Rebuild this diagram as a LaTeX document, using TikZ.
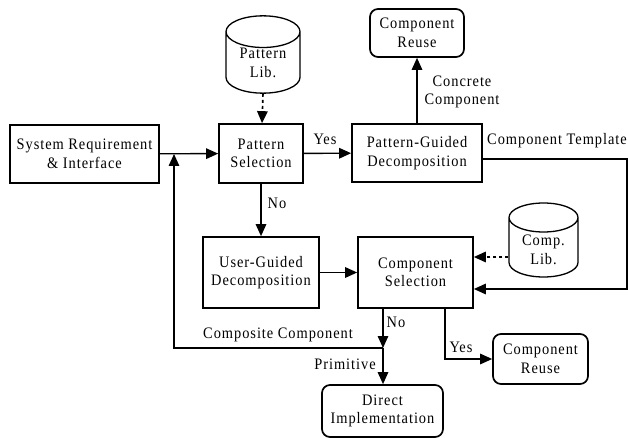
\documentclass[tikz,border=0pt]{standalone}
\usepackage{fontspec}
\setmainfont{Liberation Serif}[LetterSpace=6,FakeStretch=0.9]
\usetikzlibrary{arrows.meta,shapes.geometric}

\begin{document}
\begin{tikzpicture}[x=1pt,y=-1pt,
    line width=1.4pt,
    >={Triangle[length=12pt,width=10.5pt]},
    font=\fontsize{16}{18.5}\selectfont,
    box/.style={draw,line width=1.7pt,align=center,inner sep=0pt},
    rbox/.style={box,rounded corners=8pt},
    db/.style={draw,line width=1.3pt,cylinder,shape border rotate=90,aspect=0.68,align=center,inner sep=0pt,anchor=shape center},
    lbl/.style={inner sep=0pt,align=center},
    dots/.style={dash pattern=on 3pt off 3pt,line width=1.6pt}]

  \useasboundingbox (0,0) rectangle (628,438);

  % blocks
  \node[box, minimum width=149pt, minimum height=58pt] (sysreq) at (84.5,154) {System Requirement\\\& Interface};
  \node[box, minimum width=84pt, minimum height=59pt] (patsel) at (261,153.5) {Pattern\\Selection};
  \node[box, minimum width=130pt, minimum height=58pt] (pgd) at (417,153) {Pattern-Guided\\Decomposition};
  \node[box, minimum width=116pt, minimum height=71pt] (ugd) at (261,272.5) {User-Guided\\Decomposition};
  \node[box, minimum width=115pt, minimum height=71pt] (compsel) at (415.5,272.5) {Component\\Selection};

  \node[rbox, minimum width=94pt, minimum height=48pt] (reuse1) at (417,33) {Component\\Reuse};
  \node[rbox, minimum width=95pt, minimum height=50pt] (reuse2) at (540.5,359) {Component\\Reuse};
  \node[rbox, minimum width=121pt, minimum height=52pt] (direct) at (382.5,411) {Direct\\Implementation};

  % libraries (drum sized by a phantom, text set on its own)
  \node[db, minimum width=74pt, minimum height=75pt] (patlib) at (263,54.5) {\phantom{Pattern}\\\phantom{Lib.}};
  \node[lbl] (patlibtxt) at (263,63) {Pattern\\Lib.};
  \node[db, minimum width=69pt, minimum height=74pt] (complib) at (543.5,240) {\phantom{Comp.}\\\phantom{Lib.}};
  \node[lbl] (complibtxt) at (543.5,250) {Comp.\\Lib.};

  % bends
  \coordinate (tr) at (627,159);
  \coordinate (br) at (627,289);
  \coordinate (jn) at (383,348);
  \coordinate (jl) at (174,348);
  \coordinate (jt) at (174,154);
  \coordinate (yc) at (445,359);

  % labels
  \node[lbl] (yes1) at (325,139) {Yes};
  \node[lbl] (no1) at (277,203) {No};
  \node[lbl] (concr) at (462,92) {Concrete\\Component};
  \node[lbl] (templ) at (557,141) {Component Template};
  \node[lbl] (no2) at (396,322) {No};
  \node[lbl] (compo) at (278,335) {Composite Component};
  \node[lbl] (prim) at (345,364) {Primitive};
  \node[lbl] (yes2) at (461,347) {Yes};

  % connectors
  \draw[->] (sysreq) -- (patsel);
  \draw[->,dots] (patlib.south) -- (patsel);
  \draw[->] (patsel) -- (pgd);
  \draw[->] (pgd) -- (reuse1);
  \draw[->] (pgd.east |- tr) -- (tr) -- (br) -- (compsel.east |- br);
  \draw[->,dots] (complib.west |- 0,257) -- (compsel.east |- 0,257);
  \draw[->] (patsel) -- (ugd);
  \draw[->] (ugd) -- (compsel);
  \draw[->] (compsel.south -| jn) -- (jn);
  \draw[->] (jn) -- (direct.north -| jn);
  \draw[->] (jn) -- (jl) -- (jt);
  \draw[->] (compsel.south -| yc) -- (yc) -- (reuse2);

\end{tikzpicture}
\end{document}
